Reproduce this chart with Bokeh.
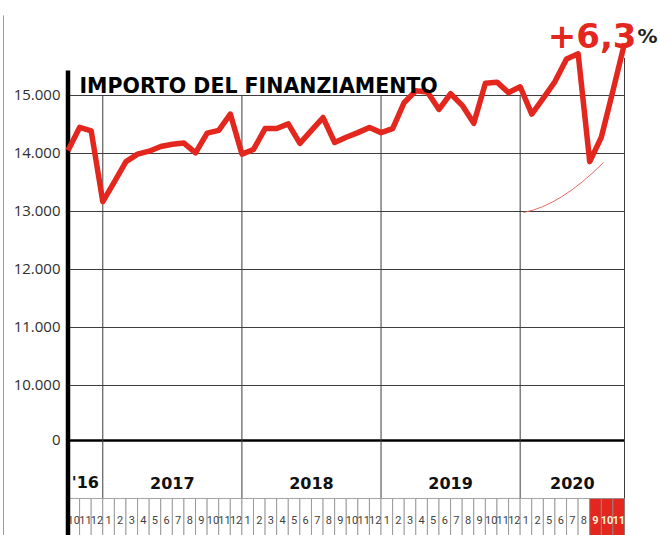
from bokeh.plotting import figure
from bokeh.models import Range1d
from bokeh.core.properties import value
from bokeh.embed import file_html
from bokeh.resources import INLINE

# ---------------- data ----------------
title = "IMPORTO DEL FINANZIAMENTO"
change_label = "+6,3"
change_unit = "%"

year_labels = ["'16", "2017", "2018", "2019", "2020"]
months_per_year = [3, 12, 12, 12, 9]
month_labels = ["10", "11", "12",
                "1", "2", "3", "4", "5", "6", "7", "8", "9", "10", "11", "12",
                "1", "2", "3", "4", "5", "6", "7", "8", "9", "10", "11", "12",
                "1", "2", "3", "4", "5", "6", "7", "8", "9", "10", "11", "12",
                "1", "2", "5", "6", "7", "8", "9", "10", "11"]
highlighted_last = 3  # last months shown in red

y_ticks = [15000, 14000, 13000, 12000, 11000, 10000]
y_tick_labels = ["15.000", "14.000", "13.000", "12.000", "11.000", "10.000"]
zero_label = "0"

# values at the month boundaries (from start of first slot to end of last)
values = [14050, 14450, 14390, 13170, 13510, 13860, 13990, 14040, 14120, 14160,
          14180, 14010, 14350, 14400, 14680, 13990, 14070, 14430, 14430, 14510,
          14175, 14400, 14620, 14190, 14280, 14360, 14450, 14360, 14430, 14880,
          15080, 15060, 14760, 15030, 14830, 14520, 15210, 15230, 15050, 15150,
          14680, 14955, 15240, 15630, 15720, 13860, 14280, 15080, 15900]

# ---------------- layout constants ----------------
ZERO_POS = 9052      # broken axis: position of the "0" line
BOX_TOP = 8052
BOX_BOTTOM = 7300
RED = "#e3271e"
GRID = "#3c3c3c"
SMALL_FONT = "Roboto"

n = len(month_labels)
xs = list(range(len(values)))

p = figure(width=660, height=535,
           x_range=Range1d(-5.822, 51.104), y_range=Range1d(7413.8, 16637.9),
           output_backend="svg", toolbar_location=None,
           x_axis_location=None, y_axis_location=None, min_border=0)
p.grid.visible = False
p.outline_line_color = None
p.background_fill_color = "white"
p.border_fill_color = "white"

# thin page border on the far left
p.segment(x0=[-5.563], y0=[7300], x1=[-5.563], y1=[16380], line_color="#9a9a9a", line_width=1)

# horizontal grid lines
p.segment(x0=[0] * len(y_ticks), y0=y_ticks, x1=[n] * len(y_ticks), y1=y_ticks,
          line_color=GRID, line_width=1)
# zero line
p.segment(x0=[0], y0=[ZERO_POS], x1=[n], y1=[ZERO_POS], line_color="black", line_width=2.6)

# year dividers
bounds = []
acc = 0
for m in months_per_year:
    bounds.append((acc, acc + m))
    acc += m
div_x = [b[1] for b in bounds[:-1]]
p.segment(x0=div_x, y0=[BOX_TOP] * len(div_x), x1=div_x, y1=[max(y_ticks)] * len(div_x),
          line_color=GRID, line_width=1)
# right border
p.segment(x0=[n], y0=[BOX_BOTTOM], x1=[n], y1=[15650], line_color=GRID, line_width=1)

# month boxes
fills = ["white"] * (n - highlighted_last) + [RED] * highlighted_last
p.quad(left=list(range(n)), right=[i + 1 for i in range(n)],
       bottom=[BOX_BOTTOM] * n, top=[BOX_TOP] * n,
       fill_color=fills, line_color="#8c8c8c", line_width=0.8)

normal_idx = list(range(n - highlighted_last))
hi_idx = list(range(n - highlighted_last, n))
p.text(x=[i + 0.5 for i in normal_idx], y=[7680] * len(normal_idx),
       text=[month_labels[i] for i in normal_idx],
       text_align="center", text_baseline="middle",
       text_font=value(SMALL_FONT), text_font_size="11px",
       text_color="#3f3f3f")
p.text(x=[i + 0.5 for i in hi_idx], y=[7680] * len(hi_idx),
       text=[month_labels[i] for i in hi_idx],
       text_align="center", text_baseline="middle",
       text_font=value(SMALL_FONT), text_font_size="11px",
       text_font_style="bold", text_color="#fff4d6")

# year labels
p.text(x=[(a + b) / 2 for a, b in bounds], y=[8327] * len(bounds), text=year_labels,
       text_align="center", text_baseline="middle",
       text_font=value("DejaVu Sans"), text_font_style="bold",
       text_font_size="16px", text_color="#111111")

# thick left bar
p.segment(x0=[0], y0=[BOX_BOTTOM], x1=[0], y1=[15431], line_color="black", line_width=4.5)

# annotation arc
p.quadratic(x0=[39.29], y0=[12983], x1=[46.19], y1=[13845], cx=[42.48], cy=[13103],
            line_color="#e25a55", line_width=0.9)

# data line
p.line(xs, values, line_color=RED, line_width=5.5, line_join="round")

# y tick labels
p.text(x=[-0.65] * (len(y_ticks) + 1), y=y_ticks + [ZERO_POS],
       text=y_tick_labels + [zero_label],
       text_align="right", text_baseline="middle",
       text_font=value("Open Sans"), text_font_size="15px", text_color="#2e2e2e")

# title
p.text(x=[0.99], y=[15172], text=[title], text_align="left", text_baseline="alphabetic",
       text_font=value("DejaVu Sans"), text_font_style="bold",
       text_font_size="20.5px", text_color="black")

# change label
p.text(x=[49.03], y=[16026], text=[change_label], text_align="right",
       text_baseline="alphabetic", text_font=value("DejaVu Sans"),
       text_font_style="bold", text_font_size="34px", text_color=RED)
p.text(x=[49.12], y=[16026], text=[change_unit], text_align="left",
       text_baseline="alphabetic", text_font=value("DejaVu Sans"),
       text_font_style="bold", text_font_size="20px", text_color="#222222")

open("out.html", "w").write(file_html(p, INLINE))
